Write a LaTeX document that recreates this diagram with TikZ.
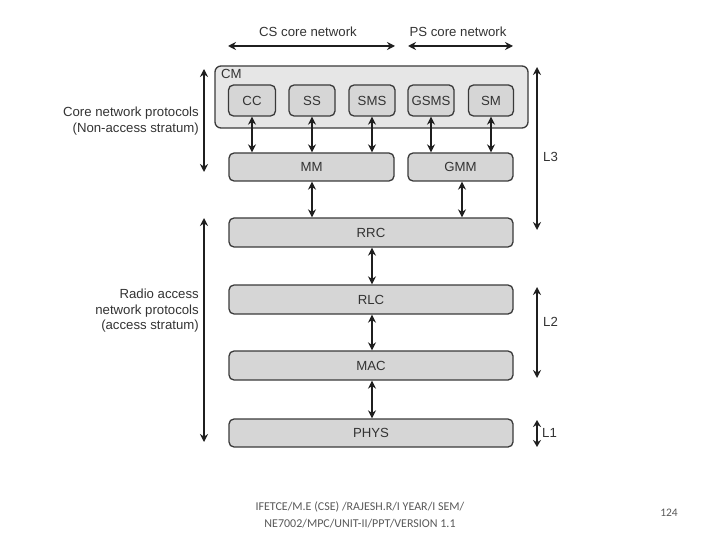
\documentclass[tikz,border=0pt]{standalone}
\usepackage{fontspec}
\setmainfont{Liberation Sans}
\newfontfamily\footfont{Carlito}
\usetikzlibrary{arrows.meta}
\definecolor{txt}{HTML}{333333}
\definecolor{boxfill}{HTML}{D6D6D6}
\definecolor{cmfill}{HTML}{E6E6E6}
\definecolor{edge}{HTML}{3A3A3A}
\definecolor{foot}{HTML}{595959}
\tikzset{
  layer/.style={draw=edge, line width=1.3pt, fill=boxfill, rounded corners=5pt,
    inner sep=0pt, font=\fontsize{13.2}{15}\selectfont, text=txt},
  cmbox/.style={draw=edge, line width=1.3pt, fill=cmfill, rounded corners=6pt, inner sep=0pt},
  dbl/.style={{Stealth[length=8pt,width=8pt]}-{Stealth[length=8pt,width=8pt]}, line width=2.2pt, black!88},
  lbl/.style={font=\fontsize{13.2}{15.5}\selectfont, text=txt, inner sep=0pt},
  footer/.style={font=\footfont\fontsize{12}{17}\selectfont, text=foot, align=center, inner sep=0pt}
}
\begin{document}
\begin{tikzpicture}[x=1pt,y=-1pt]
\useasboundingbox (0,0) rectangle (720,540);
% CM container
\node[cmbox, minimum width=313pt, minimum height=62pt] (CM) at (371.5,97) {};
\node[lbl, anchor=west] (CMl) at (221,74) {CM};
% top boxes
\node[layer, minimum width=47pt, minimum height=31pt] (CC) at (252,100.5) {CC};
\node[layer, minimum width=46pt, minimum height=31pt] (SS) at (312,100.5) {SS};
\node[layer, minimum width=46pt, minimum height=31pt] (SMS) at (372,100.5) {SMS};
\node[layer, minimum width=46pt, minimum height=31pt] (GSMS) at (431,100.5) {GSMS};
\node[layer, minimum width=45pt, minimum height=31pt] (SM) at (491,100.5) {SM};
% MM / GMM
\node[layer, minimum width=165pt, minimum height=28pt] (MM) at (311.5,167) {MM};
\node[layer, minimum width=105pt, minimum height=28pt] (GMM) at (460.5,167) {GMM};
% lower layers
\node[layer, minimum width=284pt, minimum height=29pt] (RRC) at (371,232.5) {RRC};
\node[layer, minimum width=284pt, minimum height=29pt] (RLC) at (371,299.5) {RLC};
\node[layer, minimum width=284pt, minimum height=29pt] (MAC) at (371,365.5) {MAC};
\node[layer, minimum width=284pt, minimum height=28pt] (PHYS) at (371,433) {PHYS};
% vertical connectors
\draw[dbl] (CC.south) -- (CC.south |- MM.north);
\draw[dbl] (SS.south) -- (SS.south |- MM.north);
\draw[dbl] (SMS.south) -- (SMS.south |- MM.north);
\draw[dbl] (GSMS.south) -- (GSMS.south |- GMM.north);
\draw[dbl] (SM.south) -- (SM.south |- GMM.north);
\draw[dbl] (MM.south -| 312,0) -- (312,0 |- RRC.north);
\draw[dbl] (GMM.south -| 462,0) -- (462,0 |- RRC.north);
\draw[dbl] (RRC.south -| 372,0) -- (372,0 |- RLC.north);
\draw[dbl] (RLC.south -| 372,0) -- (372,0 |- MAC.north);
\draw[dbl] (MAC.south -| 372,0) -- (372,0 |- PHYS.north);
% top spans
\coordinate (csL) at (228,46); \coordinate (csR) at (395,46);
\coordinate (psL) at (408,46); \coordinate (psR) at (513,46);
\draw[dbl] (csL) -- (csR);
\draw[dbl] (psL) -- (psR);
\node[lbl] (cs) at (308,32) {CS core network};
\node[lbl] (ps) at (458,32) {PS core network};
% left spans
\coordinate (nasT) at (204,69); \coordinate (nasB) at (204,172);
\coordinate (asT) at (204,218); \coordinate (asB) at (204,442);
\draw[dbl] (nasT) -- (nasB);
\draw[dbl] (asT) -- (asB);
\node[lbl, anchor=east, align=right] (nas) at (199,121) {Core network protocols\\(Non-access stratum)};
\node[lbl, anchor=east, align=right] (as) at (199,311) {Radio access\\network protocols\\(access stratum)};
% right spans
\coordinate (l3T) at (537,67); \coordinate (l3B) at (537,230);
\coordinate (l2T) at (537,287); \coordinate (l2B) at (537,378);
\coordinate (l1T) at (537,420); \coordinate (l1B) at (537,447);
\draw[dbl] (l3T) -- (l3B);
\draw[dbl] (l2T) -- (l2B);
\draw[{Stealth[length=7pt,width=8pt]}-{Stealth[length=7pt,width=8pt]}, line width=2.2pt, black!88] (l1T) -- (l1B);
\node[lbl, anchor=west] (L3) at (543,157) {L3};
\node[lbl, anchor=west] (L2) at (543,322) {L2};
\node[lbl, anchor=west] (L1) at (542,433) {L1};
% footer
\node[footer] (ft) at (360,515) {IFETCE/M.E (CSE) /RAJESH.R/I YEAR/I SEM/\\NE7002/MPC/UNIT-II/PPT/VERSION 1.1};
\node[footer, font=\footfont\fontsize{11.5}{14}\selectfont] (pg) at (669,513) {124};
\end{tikzpicture}
\end{document}
